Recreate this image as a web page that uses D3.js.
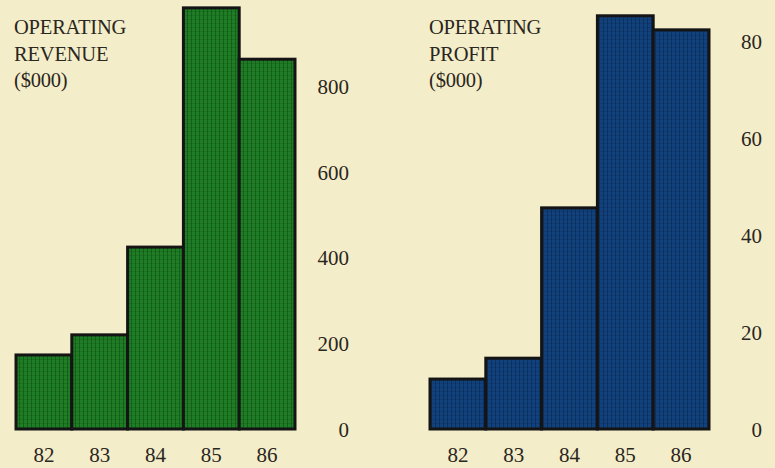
<!DOCTYPE html>
<html>
<head>
<meta charset="utf-8">
<script src="https://cdn.jsdelivr.net/npm/d3@7"></script>
<style>
  html, body { margin: 0; padding: 0; background: #f4edca; }
  svg { display: block; }
  text { font-family: "Liberation Serif", "Times New Roman", serif; fill: #2a2620; }
</style>
</head>
<body>
<svg id="chart" width="775" height="468"></svg>
<script>
// Fiscal years shown on both panels
const years = ["82", "83", "84", "85", "86"];

// Operating revenue, $000
const revenue = [173, 220, 425, 984, 864];
const revenueTicks = [0, 200, 400, 600, 800];
const revenueTitle = ["OPERATING", "REVENUE", "($000)"];

// Operating profit, $000
const profit = [10.3, 14.6, 45.6, 85.2, 82.3];
const profitTicks = [0, 20, 40, 60, 80];
const profitTitle = ["OPERATING", "PROFIT", "($000)"];

const svg = d3.select("#chart");

// Fine vertical screen texture laid over the solid bar colour
function addTexture(id, base, line) {
  const p = svg.append("defs").append("pattern")
    .attr("id", id).attr("width", 4).attr("height", 4)
    .attr("patternUnits", "userSpaceOnUse");
  p.append("rect").attr("width", 4).attr("height", 4).attr("fill", base);
  p.append("rect").attr("x", 3).attr("width", 1).attr("height", 4).attr("fill", line).attr("opacity", 0.55);
  p.append("rect").attr("y", 3).attr("width", 4).attr("height", 1).attr("fill", line).attr("opacity", 0.25);
}
addTexture("tex-green", "#1f7d25", "#0c4a10");
addTexture("tex-blue", "#11427e", "#082448");

function panel(opts) {
  const g = svg.append("g");

  const x = d3.scaleBand()
    .domain(years)
    .range([opts.x0, opts.x1])
    .paddingInner(0).paddingOuter(0);

  const y = d3.scaleLinear()
    .domain([0, opts.max])
    .range([opts.baseY, opts.baseY - opts.max * opts.pxPerUnit]);

  // Bars
  g.selectAll("rect.bar")
    .data(opts.values)
    .join("rect")
    .attr("class", "bar")
    .attr("x", (d, i) => x(years[i]))
    .attr("width", x.bandwidth())
    .attr("y", d => y(d))
    .attr("height", d => y(0) - y(d))
    .attr("fill", opts.fill)
    .attr("stroke", "#141414")
    .attr("stroke-width", 3);

  // Value axis on the right, labels only
  const yAxis = d3.axisRight(y)
    .tickValues(opts.ticks)
    .tickSize(0)
    .tickPadding(0)
    .tickFormat(d3.format("d"));
  const ya = g.append("g")
    .attr("transform", `translate(${opts.tickX},0)`)
    .call(yAxis);
  ya.select(".domain").remove();
  ya.selectAll("text")
    .attr("text-anchor", "end")
    .attr("dy", "0.34em")
    .style("font-size", "21px")
    .style("font-family", "'Liberation Serif', serif")
    .attr("fill", "#2e2a24");

  // Year axis below the bars
  const xAxis = d3.axisBottom(x).tickSize(0).tickPadding(0);
  const xa = g.append("g")
    .attr("transform", `translate(0,${opts.baseY + 18})`)
    .call(xAxis);
  xa.select(".domain").remove();
  xa.selectAll("text")
    .attr("dy", "0.71em")
    .style("font-size", "21px")
    .style("font-family", "'Liberation Serif', serif")
    .attr("fill", "#2e2a24");

  // Panel title
  const t = g.append("text")
    .attr("x", opts.titleX)
    .attr("y", 34)
    .style("font-size", "20.5px")
    .style("letter-spacing", "-0.2px")
    .attr("fill", "#2e2a24");
  t.selectAll("tspan")
    .data(opts.title)
    .join("tspan")
    .attr("x", opts.titleX)
    .attr("dy", (d, i) => i === 0 ? 0 : 26.5)
    .text(d => d);
}

panel({
  values: revenue, ticks: revenueTicks, title: revenueTitle,
  x0: 16, x1: 295, baseY: 429, max: 1000, pxPerUnit: 0.428,
  tickX: 349, titleX: 14, fill: "url(#tex-green)"
});

panel({
  values: profit, ticks: profitTicks, title: profitTitle,
  x0: 430, x1: 709, baseY: 429, max: 90, pxPerUnit: 4.85,
  tickX: 762, titleX: 429, fill: "url(#tex-blue)"
});
</script>
</body>
</html>
